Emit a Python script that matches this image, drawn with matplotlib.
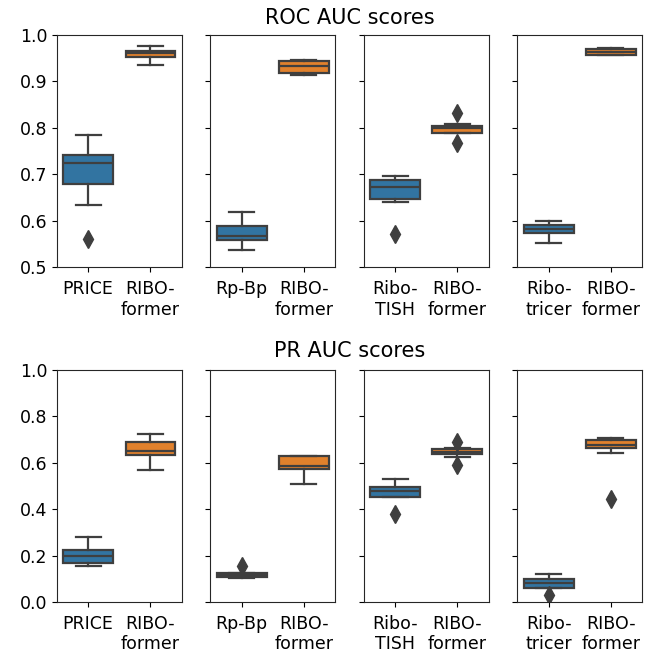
import numpy as np
import matplotlib.pyplot as plt

# baseline tools per panel
tools = ["PRICE", "Rp-Bp", "Ribo-\nTISH", "Ribo-\ntricer"]
ours = "RIBO-\nformer"

# box stats: [whislo, q1, med, q3, whishi]
roc_base = [[0.634, 0.679, 0.724, 0.742, 0.785],
            [0.537, 0.559, 0.567, 0.588, 0.620],
            [0.640, 0.648, 0.674, 0.689, 0.697],
            [0.553, 0.573, 0.582, 0.591, 0.600]]
roc_base_fliers = [[0.561], [], [0.571], []]
roc_ribo = [[0.935, 0.953, 0.961, 0.966, 0.976],
            [0.914, 0.919, 0.934, 0.944, 0.946],
            [0.790, 0.790, 0.799, 0.804, 0.808],
            [0.956, 0.957, 0.964, 0.970, 0.973]]
roc_ribo_fliers = [[], [], [0.833, 0.768], []]

pr_base = [[0.154, 0.168, 0.198, 0.222, 0.280],
           [0.105, 0.108, 0.118, 0.126, 0.126],
           [0.452, 0.452, 0.476, 0.495, 0.531],
           [0.062, 0.062, 0.082, 0.100, 0.119]]
pr_base_fliers = [[], [0.154], [0.380], [0.032]]
pr_ribo = [[0.567, 0.631, 0.650, 0.687, 0.725],
           [0.509, 0.574, 0.584, 0.627, 0.630],
           [0.624, 0.636, 0.646, 0.660, 0.664],
           [0.643, 0.664, 0.677, 0.699, 0.707]]
pr_ribo_fliers = [[], [], [0.689, 0.588], [0.445]]

blue = "#3274a1"
orange = "#e1812c"
gray = "#3f3f3f"

plt.rcParams["font.size"] = 12.5
plt.rcParams["axes.edgecolor"] = "#262626"
plt.rcParams["xtick.major.pad"] = 5.5


def stats(v, fl):
    return dict(whislo=v[0], q1=v[1], med=v[2], q3=v[3], whishi=v[4], fliers=fl)


def draw(ax, base, base_fl, ribo, ribo_fl, name):
    bp = ax.bxp([stats(base, base_fl), stats(ribo, ribo_fl)], positions=[0, 1],
                widths=0.8, patch_artist=True, showfliers=True,
                boxprops=dict(edgecolor=gray, linewidth=1.6),
                whiskerprops=dict(color=gray, linewidth=1.6),
                capprops=dict(color=gray, linewidth=1.6),
                medianprops=dict(color=gray, linewidth=1.6),
                flierprops=dict(marker="d", markerfacecolor=gray, markeredgecolor=gray, markersize=9),
                capwidths=0.4)
    for patch, c in zip(bp["boxes"], [blue, orange]):
        patch.set_facecolor(c)
    ax.set_xlim(-0.5, 1.5)
    ax.set_xticks([0, 1])
    ax.set_xticklabels([name, ours])


fig, axes = plt.subplots(2, 4, figsize=(6.52, 6.54), dpi=100, sharey="row")
fig.subplots_adjust(left=0.0874, right=0.9847, top=0.9465, bottom=0.0795, wspace=0.232, hspace=0.44)

for i in range(4):
    draw(axes[0, i], roc_base[i], roc_base_fliers[i], roc_ribo[i], roc_ribo_fliers[i], tools[i])
    draw(axes[1, i], pr_base[i], pr_base_fliers[i], pr_ribo[i], pr_ribo_fliers[i], tools[i])

axes[0, 0].set_ylim(0.5, 1.0)
axes[0, 0].set_yticks([0.5, 0.6, 0.7, 0.8, 0.9, 1.0])
axes[1, 0].set_ylim(0.0, 1.0)
axes[1, 0].set_yticks([0.0, 0.2, 0.4, 0.6, 0.8, 1.0])

fig.text(0.536, 0.972, "ROC AUC scores", ha="center", va="center", fontsize=15)
fig.text(0.536, 0.463, "PR AUC scores", ha="center", va="center", fontsize=15)

plt.savefig("out.png")
